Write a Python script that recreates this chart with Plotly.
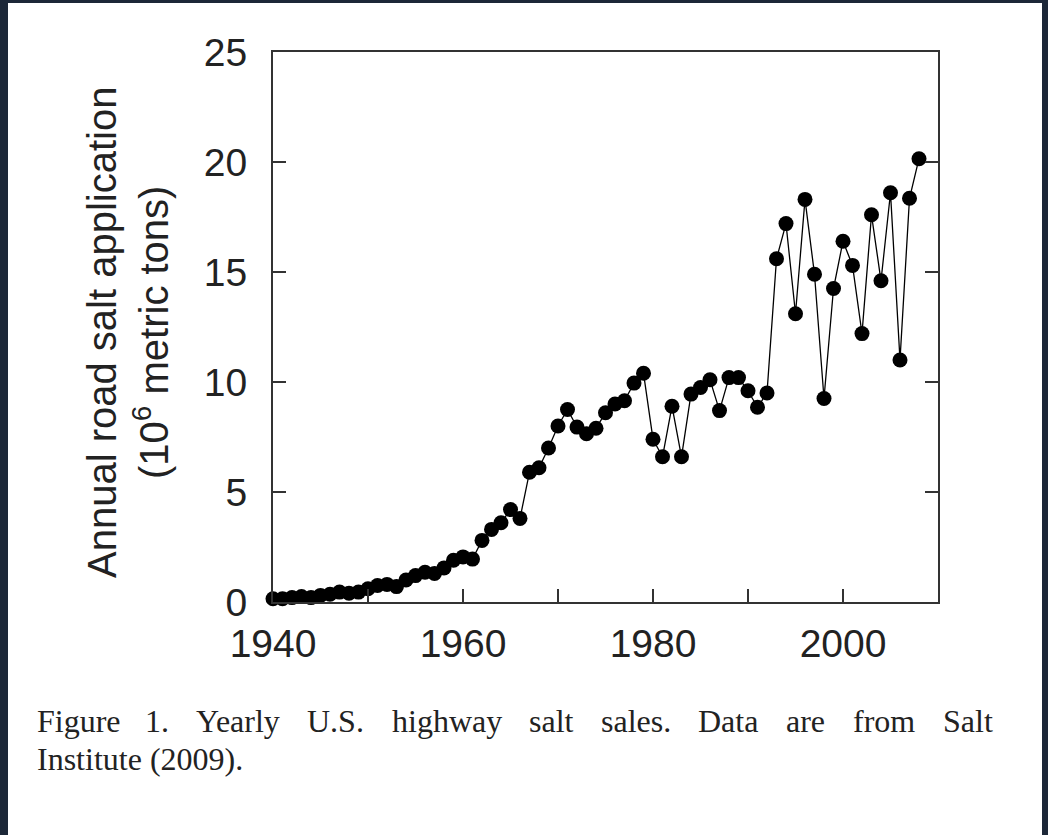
import plotly.graph_objects as go

# ---- data ----
years = list(range(1940, 2009))
salt = [0.15, 0.15, 0.2, 0.25, 0.2, 0.3, 0.35, 0.45, 0.4, 0.45,
        0.6, 0.75, 0.8, 0.7, 1.0, 1.2, 1.35, 1.3, 1.55, 1.9,
        2.05, 1.95, 2.8, 3.3, 3.6, 4.2, 3.8, 5.9, 6.1, 7.0,
        8.0, 8.75, 7.95, 7.65, 7.9, 8.6, 9.0, 9.15, 9.95, 10.4,
        7.4, 6.6, 8.9, 6.6, 9.45, 9.75, 10.1, 8.7, 10.2, 10.2,
        9.6, 8.85, 9.5, 15.6, 17.2, 13.1, 18.3, 14.9, 9.25, 14.25,
        16.4, 15.3, 12.2, 17.6, 14.6, 18.6, 11.0, 18.35, 20.15]

x_tick_vals = [1940, 1960, 1980, 2000]
x_tick_text = ["1940", "1960", "1980", "2000"]
y_tick_vals = [0, 5, 10, 15, 20, 25]

caption_line1 = ["Figure", "1.", "Yearly", "U.S.", "highway", "salt",
                 "sales.", "Data", "are", "from", "Salt"]
caption_line2 = "Institute (2009)."

# ---- layout geometry (pixels) ----
W, H = 1048, 835
L, R, T, B = 273, 110, 52, 233
PW, PH = W - L - R, H - T - B


def px_x(p):
    return (p - L) / PW


def px_y(p):
    return (H - B - p) / PH


fig = go.Figure()
fig.add_trace(go.Scatter(
    x=years, y=salt, mode="lines+markers",
    line=dict(color="black", width=1.3),
    marker=dict(color="black", size=15),
    showlegend=False, cliponaxis=False,
))

axis_font = dict(family="Liberation Sans, Arial, sans-serif", size=39, color="#222")

fig.update_xaxes(
    range=[1940, 2010], tickvals=x_tick_vals, ticktext=x_tick_text,
    ticks="inside", ticklen=13, tickwidth=2, tickcolor="#333",
    minor=dict(dtick=10, tick0=1940, ticks="inside", ticklen=13, tickwidth=2, tickcolor="#333"),
    showline=True, linecolor="#333", linewidth=2, mirror=True,
    showgrid=False, zeroline=False, tickfont=axis_font, ticklabelstandoff=6,
)
fig.update_yaxes(
    range=[0, 25], tickvals=y_tick_vals,
    ticks="inside", ticklen=13, tickwidth=2, tickcolor="#333",
    showline=True, linecolor="#333", linewidth=2, mirror="ticks",
    showgrid=False, zeroline=False, tickfont=axis_font, ticklabelstandoff=16,
)

annotations = [
    dict(text="Annual road salt application<br>(10<sup>6</sup> metric tons)",
         xref="paper", yref="paper", x=px_x(128), y=px_y(333),
         xanchor="center", yanchor="middle", textangle=-90, showarrow=False,
         font=dict(family="Liberation Sans, Arial, sans-serif", size=40, color="#222")),
]

cap_font = dict(family="Liberation Serif, Times New Roman, serif", size=32, color="#222")
word_x = [35, 143, 194, 305, 390, 527, 599, 696, 784, 851, 941]
for wd, wx in zip(caption_line1, word_x):
    annotations.append(dict(text=wd, xref="paper", yref="paper",
                            x=px_x(wx), y=px_y(721), xanchor="left", yanchor="middle",
                            showarrow=False, font=cap_font))
annotations.append(dict(text=caption_line2, xref="paper", yref="paper",
                        x=px_x(35), y=px_y(759), xanchor="left", yanchor="middle",
                        showarrow=False, font=cap_font))

border = "#1c2738"
shapes = [
    dict(type="rect", xref="paper", yref="paper", x0=px_x(0), x1=px_x(8),
         y0=px_y(H), y1=px_y(0), fillcolor=border, line=dict(width=0), layer="above"),
    dict(type="rect", xref="paper", yref="paper", x0=px_x(0), x1=px_x(W),
         y0=px_y(3), y1=px_y(0), fillcolor=border, line=dict(width=0), layer="above"),
    dict(type="rect", xref="paper", yref="paper", x0=px_x(W - 6), x1=px_x(W),
         y0=px_y(H), y1=px_y(0), fillcolor=border, line=dict(width=0), layer="above"),
]

fig.update_layout(
    width=W, height=H,
    margin=dict(l=L, r=R, t=T, b=B, autoexpand=False),
    paper_bgcolor="white", plot_bgcolor="white",
    annotations=annotations, shapes=shapes,
)

fig.write_html("out.html")
